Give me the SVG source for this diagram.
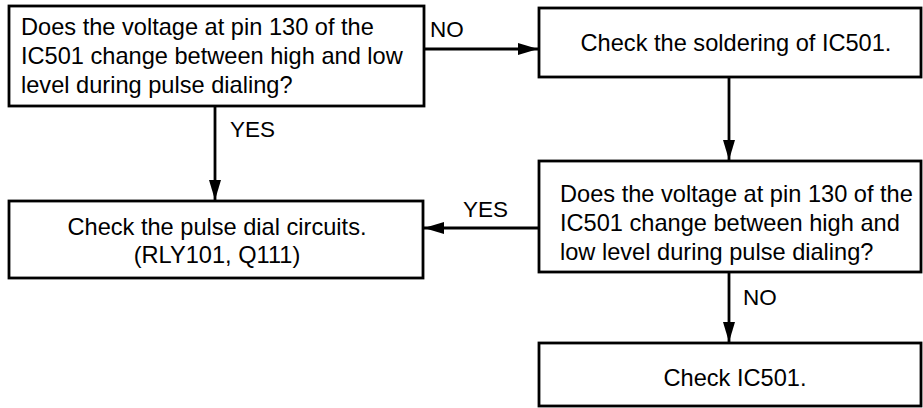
<svg xmlns="http://www.w3.org/2000/svg" width="923" height="408" viewBox="0 0 923 408">
<defs>
<style>
.box{fill:#fff;stroke:#000;stroke-width:2.8}
.t{font-family:"Liberation Sans",Arial,sans-serif;font-size:23.6px;fill:#000}
.l{font-family:"Liberation Sans",Arial,sans-serif;font-size:22.5px;fill:#000}
.c{text-anchor:middle}
.ln{stroke:#000;stroke-width:2.8;fill:none}
</style>
<marker id="ah" viewBox="0 0 20 12" refX="20" refY="6" markerWidth="20" markerHeight="12" markerUnits="userSpaceOnUse" orient="auto">
<path d="M0,0 L20,6 L0,12 Z" fill="#000"/>
</marker>
</defs>
<g id="connectors">
<line class="ln" x1="424" y1="49" x2="538" y2="49" marker-end="url(#ah)"/>
<line class="ln" x1="215" y1="106" x2="215" y2="200" marker-end="url(#ah)"/>
<line class="ln" x1="729" y1="77" x2="729" y2="160" marker-end="url(#ah)"/>
<line class="ln" x1="539" y1="228" x2="424" y2="228" marker-end="url(#ah)"/>
<line class="ln" x1="729" y1="272" x2="729" y2="342" marker-end="url(#ah)"/>
<text class="l" x="430" y="37">NO</text>
<text class="l" x="230" y="137">YES</text>
<text class="l" x="463" y="217">YES</text>
<text class="l" x="743" y="305">NO</text>
</g>
<g id="q1">
<rect class="box" x="9" y="6" width="415" height="100"/>
<text class="t" x="21" y="35">Does the voltage at pin 130 of the</text>
<text class="t" x="21" y="64">IC501 change between high and low</text>
<text class="t" x="21" y="93">level during pulse dialing?</text>
</g>
<g id="solder">
<rect class="box" x="539" y="8" width="382" height="69"/>
<text class="t c" x="736" y="51">Check the soldering of IC501.</text>
</g>
<g id="q2">
<rect class="box" x="539" y="161" width="382" height="111"/>
<text class="t" x="560" y="202">Does the voltage at pin 130 of the</text>
<text class="t" x="560" y="231">IC501 change between high and</text>
<text class="t" x="560" y="260">low level during pulse dialing?</text>
</g>
<g id="pulse">
<rect class="box" x="9" y="201" width="414" height="77"/>
<text class="t c" x="217" y="235">Check the pulse dial circuits.</text>
<text class="t c" x="217" y="263">(RLY101, Q111)</text>
</g>
<g id="ic">
<rect class="box" x="539" y="343" width="382" height="63"/>
<text class="t c" x="735" y="386">Check IC501.</text>
</g>
</svg>
